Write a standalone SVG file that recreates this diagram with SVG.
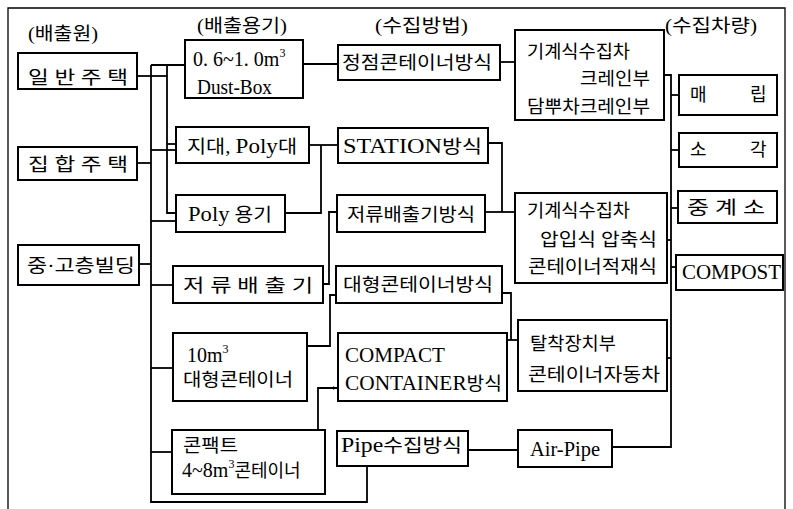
<svg xmlns="http://www.w3.org/2000/svg" width="793" height="509" viewBox="0 0 793 509">
<defs>
<style>
.box{fill:#fff;stroke:#000;stroke-width:2}
.ln{fill:none;stroke:#000;stroke-width:1.8}
text{font-family:"Liberation Serif","Noto Sans CJK KR",serif;font-size:18px;fill:#000}
.lat{font-size:20px}
</style>
<marker id="arr" viewBox="0 0 10 10" refX="9" refY="5" markerWidth="5" markerHeight="5" orient="auto" markerUnits="userSpaceOnUse"><path d="M0,1 L10,5 L0,9 z" fill="#000"/></marker>
</defs>
<rect width="793" height="509" fill="#fff"/>
<path d="M8,509 V8 H785 V509" fill="none" stroke="#000" stroke-width="1.3"/>

<g id="headers">
<text x="28" y="40" textLength="70" lengthAdjust="spacingAndGlyphs">(배출원)</text>
<text x="197" y="32" textLength="90" lengthAdjust="spacingAndGlyphs">(배출용기)</text>
<text x="375" y="32" textLength="93" lengthAdjust="spacingAndGlyphs">(수집방법)</text>
<text x="665" y="32" textLength="92" lengthAdjust="spacingAndGlyphs">(수집차량)</text>
</g>

<g id="connectors">
<path class="ln" d="M151,65 H185"/>
<path class="ln" d="M151,65 V502 H367 V466"/>
<path class="ln" d="M167,65 V213 H176"/>
<path class="ln" d="M137,76 H167"/>
<path class="ln" d="M137,163 H151"/>
<path class="ln" d="M167,144 H176"/>
<path class="ln" d="M151,150 H176"/>
<path class="ln" d="M151,221 H176"/>
<path class="ln" d="M139,264 H151"/>
<path class="ln" d="M151,285 H173"/>
<path class="ln" d="M151,368 H173"/>
<path class="ln" d="M151,452 H172"/>
<path class="ln" d="M303,64 H338"/>
<path class="ln" d="M500,62 H515"/>
<path class="ln" d="M309,145 H338"/>
<path class="ln" d="M321,145 V213 H285"/>
<path class="ln" d="M488,143 H502 V212"/>
<path class="ln" d="M485,212 H515"/>
<path class="ln" d="M323,284 H329 V212 H337"/>
<path class="ln" d="M307,346 H330 V295 H336"/>
<path class="ln" d="M502,293 H511 V340"/>
<path class="ln" d="M507,340 H518"/>
<path class="ln" d="M318,430 V388 H337" marker-end="url(#arr)"/>
<path class="ln" d="M468,450 H518"/>
<path class="ln" d="M612,447 H671 V75 H664"/>
<path class="ln" d="M671,95 H679"/>
<path class="ln" d="M671,150 H679"/>
<path class="ln" d="M671,208 H678"/>
<path class="ln" d="M671,267 H676"/>
<path class="ln" d="M667,240 H671"/>
<path class="ln" d="M667,358 H671"/>
</g>

<g id="n-ilban"><rect class="box" x="18" y="53" width="119" height="36"/><text x="28" y="84" textLength="100" lengthAdjust="spacingAndGlyphs">일 반 주 택</text></g>
<g id="n-jiphap"><rect class="box" x="18" y="147" width="119" height="33"/><text x="28" y="171" textLength="100" lengthAdjust="spacingAndGlyphs">집 합 주 택</text></g>
<g id="n-building"><rect class="box" x="18" y="245" width="121" height="40"/><text x="27" y="272" textLength="108" lengthAdjust="spacingAndGlyphs">중·고층빌딩</text></g>

<g id="n-dustbox"><rect class="box" x="185" y="40" width="118" height="58"/><text class="lat" x="193" y="66">0. 6~1. 0m<tspan font-size="12" dy="-9">3</tspan></text><text class="lat" x="197" y="94" textLength="75" lengthAdjust="spacingAndGlyphs">Dust-Box</text></g>
<g id="n-jidae"><rect class="box" x="176" y="127" width="133" height="36"/><text x="187" y="153" textLength="110" lengthAdjust="spacingAndGlyphs">지대, <tspan class="lat">Poly</tspan>대</text></g>
<g id="n-poly"><rect class="box" x="176" y="195" width="109" height="37"/><text x="188" y="221" textLength="84" lengthAdjust="spacingAndGlyphs"><tspan class="lat">Poly</tspan> 용기</text></g>
<g id="n-jeoryu"><rect class="box" x="173" y="266" width="150" height="37"/><text x="183" y="292" textLength="130" lengthAdjust="spacingAndGlyphs">저 류 배 출 기</text></g>
<g id="n-10m3"><rect class="box" x="173" y="333" width="134" height="68"/><text class="lat" x="187" y="362">10m<tspan font-size="12" dy="-9">3</tspan></text><text x="183" y="386" textLength="110" lengthAdjust="spacingAndGlyphs">대형콘테이너</text></g>
<g id="n-compact"><rect class="box" x="172" y="430" width="153" height="64"/><text x="183" y="452" textLength="55" lengthAdjust="spacingAndGlyphs">콘팩트</text><text x="182" y="477"><tspan class="lat">4~8m</tspan><tspan font-size="12" dy="-9">3</tspan><tspan dy="9">콘테이너</tspan></text></g>

<g id="n-jeongjeom"><rect class="box" x="338" y="45" width="162" height="35"/><text x="342" y="69" textLength="150" lengthAdjust="spacingAndGlyphs">정점콘테이너방식</text></g>
<g id="n-station"><rect class="box" x="338" y="128" width="150" height="35"/><text x="343" y="153" textLength="139" lengthAdjust="spacingAndGlyphs"><tspan class="lat">STATION</tspan>방식</text></g>
<g id="n-jeoryu-m"><rect class="box" x="337" y="195" width="148" height="37"/><text x="347" y="221" textLength="128" lengthAdjust="spacingAndGlyphs">저류배출기방식</text></g>
<g id="n-daehyeong"><rect class="box" x="336" y="266" width="166" height="37"/><text x="343" y="291" textLength="150" lengthAdjust="spacingAndGlyphs">대형콘테이너방식</text></g>
<g id="n-compact-m"><rect class="box" x="338" y="333" width="169" height="68"/><text class="lat" x="345" y="362" textLength="100" lengthAdjust="spacingAndGlyphs">COMPACT</text><text x="345" y="390" textLength="157" lengthAdjust="spacingAndGlyphs"><tspan class="lat">CONTAINER</tspan>방식</text></g>
<g id="n-pipe"><rect class="box" x="337" y="431" width="131" height="35"/><text x="341" y="452" textLength="121" lengthAdjust="spacingAndGlyphs"><tspan class="lat">Pipe</tspan>수집방식</text></g>

<g id="n-mech1"><rect class="box" x="515" y="30" width="149" height="90"/><text x="527" y="58" textLength="103" lengthAdjust="spacingAndGlyphs">기계식수집차</text><text x="580" y="85" textLength="70" lengthAdjust="spacingAndGlyphs">크레인부</text><text x="527" y="113" textLength="123" lengthAdjust="spacingAndGlyphs">담뿌차크레인부</text></g>
<g id="n-mech2"><rect class="box" x="515" y="193" width="152" height="90"/><text x="527" y="217" textLength="103" lengthAdjust="spacingAndGlyphs">기계식수집차</text><text x="540" y="246" textLength="117" lengthAdjust="spacingAndGlyphs">압입식 압축식</text><text x="528" y="273" textLength="129" lengthAdjust="spacingAndGlyphs">콘테이너적재식</text></g>
<g id="n-talchak"><rect class="box" x="518" y="320" width="149" height="71"/><text x="530" y="350" textLength="86" lengthAdjust="spacingAndGlyphs">탈착장치부</text><text x="528" y="381" textLength="132" lengthAdjust="spacingAndGlyphs">콘테이너자동차</text></g>
<g id="n-airpipe"><rect class="box" x="518" y="430" width="94" height="37"/><text class="lat" x="530" y="456" textLength="70" lengthAdjust="spacingAndGlyphs">Air-Pipe</text></g>

<g id="n-maerip"><rect class="box" x="679" y="75" width="98" height="40"/><text y="101"><tspan x="690">매</tspan> <tspan x="750">립</tspan></text></g>
<g id="n-sogak"><rect class="box" x="679" y="133" width="98" height="34"/><text y="156"><tspan x="690">소</tspan> <tspan x="750">각</tspan></text></g>
<g id="n-junggye"><rect class="box" x="678" y="191" width="99" height="32"/><text x="687" y="214" textLength="78" lengthAdjust="spacingAndGlyphs">중 계 소</text></g>
<g id="n-compost"><rect class="box" x="676" y="255" width="107" height="35"/><text class="lat" x="682" y="279" textLength="99" lengthAdjust="spacingAndGlyphs">COMPOST</text></g>
</svg>
